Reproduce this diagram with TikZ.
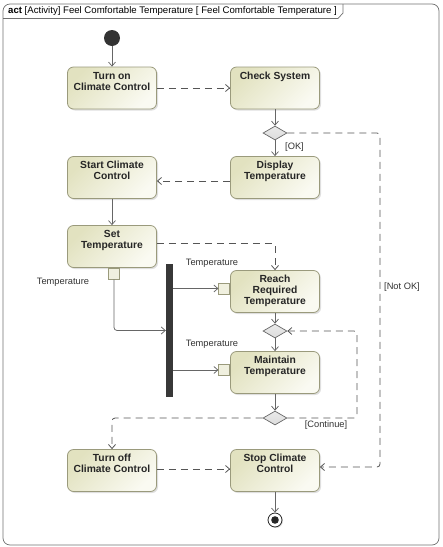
\documentclass[tikz,border=0pt]{standalone}
\usepackage{fontspec}
\setmainfont{Liberation Sans}
\usetikzlibrary{arrows.meta,shapes.geometric,shadows,positioning}
\definecolor{boxA}{HTML}{E2E2C0}
\definecolor{boxB}{HTML}{FAFAF2}
\definecolor{boxline}{HTML}{9A9A7C}
\definecolor{flowcol}{HTML}{666666}
\definecolor{dashcol}{HTML}{555555}
\definecolor{framecol}{HTML}{707070}
\definecolor{diafill}{HTML}{DCDCDC}
\newcommand\acttext[1]{\parbox[t][42pt][t]{87pt}{\centering\bfseries\fontsize{10.3}{11}\selectfont\rule{0pt}{12pt}#1}}
\tikzset{
  actbox/.style={draw=boxline, line width=0.8pt, rounded corners=6pt,
    top color=boxA, bottom color=boxB, shading angle=45,
    minimum width=89pt, minimum height=42pt, inner sep=0pt, text=black!85,
    drop shadow={opacity=0.25, shadow xshift=1.5pt, shadow yshift=-1.5pt}},
  decbox/.style={diamond, draw=flowcol, line width=0.7pt, top color=diafill!60, bottom color=diafill,
    minimum width=24pt, minimum height=14pt, inner sep=0pt},
  pinbox/.style={rectangle, draw=boxline, line width=0.7pt, fill=boxA!50,
    minimum width=11pt, minimum height=11pt, inner sep=0pt},
  forkbar/.style={rectangle, fill=black!78, minimum width=7pt, minimum height=133pt, inner sep=0pt},
  lbl/.style={font=\fontsize{9.3}{11}\selectfont, text=black!80, inner sep=1pt},
  tip/.style={-{Straight Barb[length=4pt,width=7pt]}},
  flowS/.style={tip, draw=flowcol, line width=0.75pt, rounded corners=3pt},
  flowD/.style={tip, draw=dashcol, line width=0.8pt, dash pattern=on 7pt off 5pt, rounded corners=3pt},
}
\begin{document}
\begin{tikzpicture}[x=1pt, y=-1pt]
\useasboundingbox (0,0) rectangle (443,547);
% frame
\draw[framecol, line width=0.7pt, rounded corners=7pt] (3,4) rectangle (439,545);
\draw[framecol, line width=0.7pt] (3,18.5) -- (338,18.5) -- (343,13) -- (343,4);
\node[anchor=west, font=\fontsize{9.6}{11}\selectfont, inner sep=0pt] (title) at (8,11.5)
  {\textbf{act} [Activity] Feel Comfortable Temperature [ Feel Comfortable Temperature ]};
% nodes
\node[circle, fill=black!80, minimum size=16pt, inner sep=0pt] (init) at (112,38) {};
\node[actbox] (on) at (112,88) {\acttext{Turn on\\Climate Control}};
\node[actbox] (check) at (275,88) {\acttext{Check System}};
\node[decbox] (d1) at (275,133) {};
\node[actbox] (disp) at (275,177.5) {\acttext{Display\\Temperature}};
\node[actbox] (start) at (112,177.5) {\acttext{Start Climate\\Control}};
\node[actbox] (set) at (112,246.5) {\acttext{Set\\Temperature}};
\node[pinbox, anchor=north] (p0) at ([xshift=2pt]set.south) {};
\node[forkbar] (fork) at (169.5,330.5) {};
\node[actbox] (reach) at (275,291.5) {\acttext{Reach\\Required\\Temperature}};
\node[pinbox, anchor=east] (p1) at ([yshift=3pt]reach.west) {};
\node[decbox] (d2) at (275,331) {};
\node[actbox] (maint) at (275,372.5) {\acttext{Maintain\\Temperature}};
\node[pinbox, anchor=east] (p2) at ([yshift=2.5pt]maint.west) {};
\node[decbox] (d3) at (275,418) {};
\node[actbox] (off) at (112,470.5) {\acttext{Turn off\\Climate Control}};
\node[actbox] (stop) at (275,470.5) {\acttext{Stop Climate\\Control}};
\node[circle, draw=black!85, line width=0.8pt, fill=white, minimum size=14pt, inner sep=0pt,
  drop shadow={opacity=0.25, shadow xshift=1pt, shadow yshift=-1pt},
  path picture={\fill[black!85] (path picture bounding box.center) circle (3.8pt);}] (final) at (275,520) {};
% labels
\node[lbl] (tl0) at (63,282) {Temperature};
\node[lbl] (tl1) at (212,263) {Temperature};
\node[lbl] (tl2) at (212,344) {Temperature};
\node[lbl, anchor=west] (lok) at (284,147) {[OK]};
\node[lbl] (lcont) at (326,425) {[Continue]};
\node[lbl] (lnok) at (402,287) {[Not OK]};
\coordinate (cR) at (357,418);
\coordinate (cNR) at (380,133);
% edges
\draw[flowS] (init) -- (on);
\draw[flowD] (on) -- (check);
\draw[flowS] (check) -- (d1);
\draw[flowS] (d1) -- (disp);
\draw[flowD] ([yshift=-3.5pt]disp.west) -- ([yshift=-3.5pt]start.east);
\draw[flowS] (start) -- (set);
\draw[flowD] ([yshift=3.5pt]set.east) -| (reach.north);
\draw[flowS] (p0.south) |- (fork.west);
\draw[flowS] (fork.east |- p1) -- (p1.west);
\draw[flowS] (fork.east |- p2) -- (p2.west);
\draw[flowS] (reach) -- (d2);
\draw[flowS] (d2) -- (maint);
\draw[flowS] (maint) -- (d3);
\draw[flowD] (d3.east) -- (cR) |- (d2.east);
\draw[flowD] (d3.west) -| (off.north);
\draw[flowD] ([yshift=1.5pt]off.east) -- ([yshift=1.5pt]stop.west);
\draw[flowD] (d1.east) -- (cNR) |- ([yshift=3.5pt]stop.east);
\draw[flowS] (stop) -- (final);
\end{tikzpicture}
\end{document}
